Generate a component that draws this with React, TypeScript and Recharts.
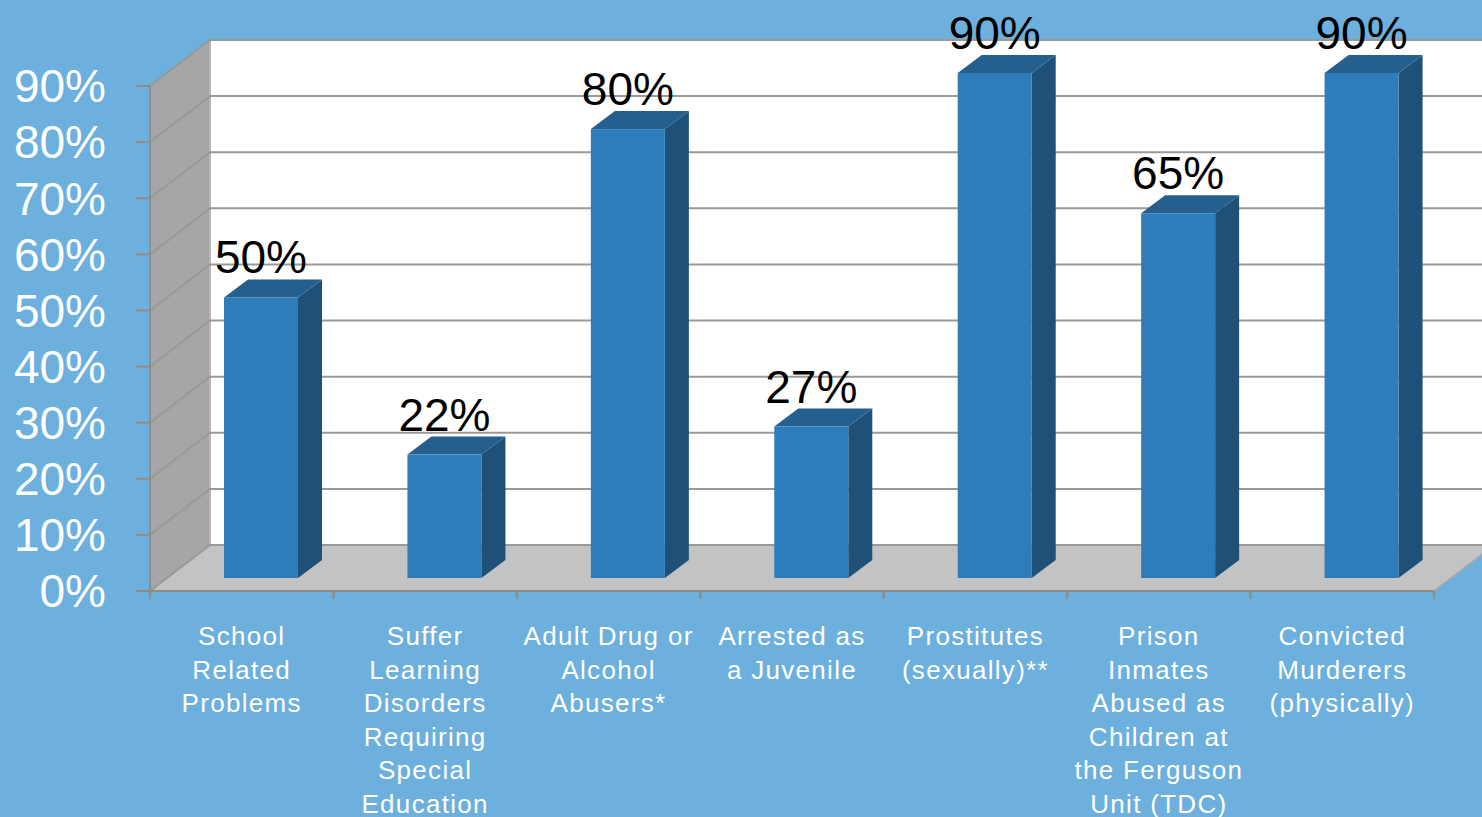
import React from "react";
import {
  BarChart,
  Bar,
  XAxis,
  YAxis,
  CartesianGrid,
  ReferenceArea,
  LabelList,
} from "recharts";

const categories = [
  "School\nRelated\nProblems",
  "Suffer\nLearning\nDisorders\nRequiring\nSpecial\nEducation",
  "Adult Drug or\nAlcohol\nAbusers*",
  "Arrested as\na Juvenile",
  "Prostitutes\n(sexually)**",
  "Prison\nInmates\nAbused as\nChildren at\nthe Ferguson\nUnit (TDC)",
  "Convicted\nMurderers\n(physically)",
];
const values = [50, 22, 80, 27, 90, 65, 90];
const yTicks = [0, 10, 20, 30, 40, 50, 60, 70, 80, 90];

const data = categories.map((name, i) => ({ name, value: values[i] }));

const FONT = "'Liberation Sans', Arial, sans-serif";
const BG = "#6db0dd";
const GRID = "#999999";

// depth of the box (back wall offset) and of the bars
const DX = 60;
const DY = -46;
const BAR_OX = 19;
const BAR_OY = -13;
const BAR_DX = 24;
const BAR_DY = -18;

function Walls(props: any) {
  const { x, y, width, height } = props;
  const bottom = y + height;
  const right = x + width;
  return (
    <g>
      <polygon
        points={`${x},${y} ${x + DX},${y + DY} ${x + DX},${bottom + DY} ${x},${bottom}`}
        fill="#a6a6a6"
      />
      <rect x={x + DX} y={y + DY} width={width + 20} height={height} fill="#ffffff" />
      <polygon
        points={`${x},${bottom} ${right},${bottom} ${right + DX},${bottom + DY} ${x + DX},${bottom + DY}`}
        fill="#c3c3c3"
        stroke="#a8a8a8"
        strokeWidth={1.5}
      />
      <line x1={x + DX} y1={y + DY} x2={x + DX} y2={bottom + DY} stroke="#b5b5b5" strokeWidth={2} />
    </g>
  );
}

function GridLine(p: any) {
  return (
    <path
      key={p.key}
      d={`M${p.x1},${p.y1} L${p.x1 + DX},${p.y1 + DY} L${p.x2 + DX},${p.y2 + DY}`}
      stroke={GRID}
      strokeWidth={2}
      fill="none"
    />
  );
}

function Bar3D(props: any) {
  const { x, y, width, height } = props;
  if (!height) return null;
  const fx = x + BAR_OX;
  const fy = y + BAR_OY;
  const fb = y + height + BAR_OY;
  return (
    <g>
      <polygon
        points={`${fx + width},${fy} ${fx + width + BAR_DX},${fy + BAR_DY} ${fx + width + BAR_DX},${fb + BAR_DY} ${fx + width},${fb}`}
        fill="#1e5078"
      />
      <polygon
        points={`${fx},${fy} ${fx + width},${fy} ${fx + width + BAR_DX},${fy + BAR_DY} ${fx + BAR_DX},${fy + BAR_DY}`}
        fill="#245f8e"
      />
      <rect x={fx} y={fy} width={width} height={fb - fy} fill="#2e7dba" />
    </g>
  );
}

function ValueLabel(props: any) {
  const { x, y, width, value } = props;
  return (
    <text
      x={x + BAR_OX + width / 2}
      y={y + BAR_OY - 24}
      textAnchor="middle"
      fill="#000"
      fontSize={46}
      fontFamily={FONT}
    >
      {value + "%"}
    </text>
  );
}

function CategoryTick(props: any) {
  const { x, y, payload } = props;
  const half = payload && payload.offset ? payload.offset : 1284 / 7 / 2;
  const lines = String(payload.value).split("\n");
  return (
    <g>
      <line x1={x - half} y1={y - 8} x2={x - half} y2={y} stroke="#8c8c8c" strokeWidth={2} />
      <line x1={x + half} y1={y - 8} x2={x + half} y2={y} stroke="#8c8c8c" strokeWidth={2} />
      <text textAnchor="middle" fill="#fff" fontSize={26} fontFamily={FONT} letterSpacing={1.3}>
        {lines.map((l, i) => (
          <tspan key={i} x={x} y={y + 46 + i * 33.6}>
            {l}
          </tspan>
        ))}
      </text>
    </g>
  );
}

export default function App() {
  return (
    <div
      style={{
        position: "absolute",
        left: 0,
        top: 0,
        width: 1482,
        height: 817,
        background: BG,
        overflow: "hidden",
      }}
    >
      <BarChart
        width={1482}
        height={817}
        data={data}
        margin={{ top: 86, right: 48, bottom: 0, left: 0 }}
        barSize={74}
      >
        <ReferenceArea y1={0} y2={90} shape={<Walls />} ifOverflow="visible" zIndex={-200} />
        <CartesianGrid vertical={false} horizontal={GridLine} />
        <XAxis
          dataKey="name"
          height={226}
          axisLine={{ stroke: "#8c8c8c", strokeWidth: 2 }}
          tickLine={false}
          tickSize={8}
          tickMargin={0}
          interval={0}
          tick={<CategoryTick />}
        />
        <YAxis
          width={150}
          domain={[0, 90]}
          ticks={yTicks}
          interval={0}
          tickFormatter={(v: number) => v + "%"}
          axisLine={{ stroke: "#8c8c8c", strokeWidth: 2 }}
          tickLine={{ stroke: "#8c8c8c", strokeWidth: 2 }}
          tickSize={14}
          tickMargin={30}
          tick={{ fill: "#fff", fontSize: 46, fontFamily: FONT }}
        />
        <Bar dataKey="value" shape={<Bar3D />} isAnimationActive={false}>
          <LabelList dataKey="value" content={<ValueLabel />} />
        </Bar>
      </BarChart>
    </div>
  );
}
